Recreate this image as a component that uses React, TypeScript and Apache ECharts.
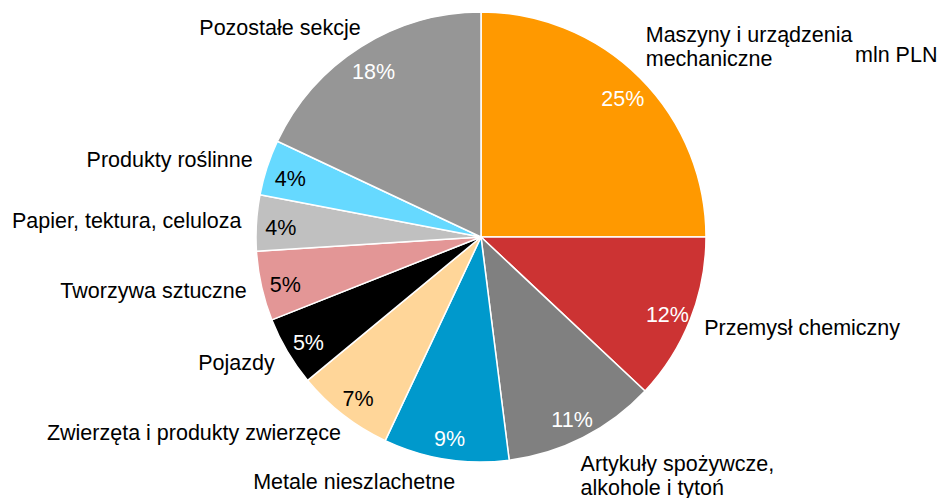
import React, { useEffect, useRef } from "react";
import * as echarts from "echarts";

const categories = [
  "Maszyny i urządzenia\nmechaniczne",
  "Przemysł chemiczny",
  "Artykuły spożywcze,\nalkohole i tytoń",
  "Metale nieszlachetne",
  "Zwierzęta i produkty zwierzęce",
  "Pojazdy",
  "Tworzywa sztuczne",
  "Papier, tektura, celuloza",
  "Produkty roślinne",
  "Pozostałe sekcje",
];
const shares = [25, 12, 11, 9, 7, 5, 5, 4, 4, 18];
const colors = [
  "#FF9900",
  "#CC3333",
  "#808080",
  "#0099CC",
  "#FFD699",
  "#000000",
  "#E39696",
  "#C0C0C0",
  "#66D9FF",
  "#969696",
];
const pctLabelColors = [
  "#FFFFFF",
  "#FFFFFF",
  "#FFFFFF",
  "#FFFFFF",
  "#000000",
  "#FFFFFF",
  "#000000",
  "#000000",
  "#000000",
  "#FFFFFF",
];
const unitLabel = "mln PLN";

const FONT = "'Liberation Sans', Arial, sans-serif";
const FS = 21.5;

export default function App() {
  const ref = useRef<HTMLDivElement>(null);
  useEffect(() => {
    if (!ref.current) return;
    const chart = echarts.init(ref.current, undefined, { renderer: "svg" });
    const total = shares.reduce((a, b) => a + b, 0);
    let acc = 0;
    const dirs = shares.map((v) => {
      const mid = ((acc + v / 2) / total) * Math.PI * 2;
      acc += v;
      return { h: Math.sin(mid), v: -Math.cos(mid) };
    });
    const center = [481, 237];
    chart.setOption({
      animation: false,
      backgroundColor: "#ffffff",
      graphic: [
        {
          type: "text",
          left: 855,
          top: 44,
          style: { text: unitLabel, font: `${FS}px ${FONT}`, fill: "#000" },
        },
      ],
      series: [
        {
          type: "pie",
          center,
          radius: [0, 225],
          startAngle: 90,
          clockwise: true,
          avoidLabelOverlap: false,
          silent: true,
          itemStyle: { borderColor: "#ffffff", borderWidth: 1.5 },
          label: {
            show: true,
            position: "outside",
            formatter: "{b}",
            color: "#000",
            fontFamily: FONT,
            fontSize: FS,
            lineHeight: 24,
            bleedMargin: 0,
            distanceToLabelLine: 0,
          },
          labelLine: { show: false, length: 15, length2: 0 },
          labelLayout: (params: any) => {
            const d = dirs[params.dataIndex] || { h: 0, v: 0 };
            const hgt = params.labelRect ? params.labelRect.height : 24;
            const single = hgt < 30;
            const dy = (d.v * hgt) / 2 - (single ? d.v * 4 : -d.v * 4);
            const dx = -Math.sign(d.h) * Math.max(0, Math.abs(d.v) - 0.5) * 24;
            return { dx, dy };
          },
          data: categories.map((name, i) => ({
            name,
            value: shares[i],
            itemStyle: { color: colors[i] },
          })),
        },
        {
          type: "pie",
          center,
          radius: [170, 225],
          startAngle: 90,
          clockwise: true,
          avoidLabelOverlap: false,
          silent: true,
          itemStyle: { color: "rgba(0,0,0,0)", borderWidth: 0 },
          label: {
            show: true,
            position: "inside",
            formatter: "{c}%",
            fontFamily: FONT,
            fontSize: FS,
          },
          labelLine: { show: false },
          labelLayout: () => ({ dy: 4 }),
          data: categories.map((name, i) => ({
            name,
            value: shares[i],
            label: { color: pctLabelColors[i] },
          })),
        },
      ],
    });
    return () => chart.dispose();
  }, []);
  return (
    <div
      ref={ref}
      style={{ position: "absolute", left: 0, top: 0, width: 941, height: 498 }}
    />
  );
}
